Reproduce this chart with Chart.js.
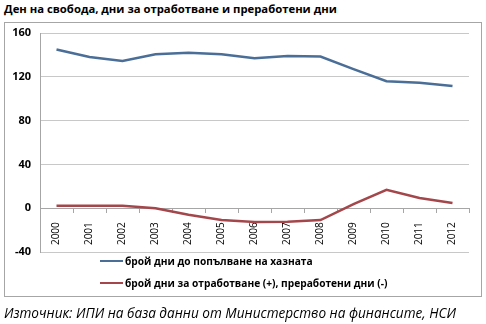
<!DOCTYPE html>
<html>
<head>
<meta charset="utf-8">
<script src="https://cdn.jsdelivr.net/npm/chart.js@4/dist/chart.umd.min.js"></script>
<style>
  html, body { margin: 0; padding: 0; background: #fff; }
  #wrap { position: relative; width: 486px; height: 324px; overflow: hidden; }
  #chart { position: absolute; left: 0; top: 0; }
  .title { position: absolute; left: 4px; top: 1px; font: bold 11.3px "Open Sans", sans-serif; color: #000; white-space: nowrap; }
  .frame { position: absolute; left: 4px; top: 22px; width: 476px; height: 273px; border: 1px solid #a6a6a6; pointer-events: none; }
  .legend { position: absolute; left: 100px; top: 252px; font: bold 10.2px "Open Sans", sans-serif; color: #000; }
  .legend div { height: 22px; line-height: 18px; white-space: nowrap; }
  .legend span.sw { display: inline-block; width: 23px; height: 0; border-top: 2.5px solid; vertical-align: middle; margin-right: 2px; position: relative; top: -1px; }
  .source { position: absolute; left: 4px; top: 303px; font: italic 13.6px "Open Sans", sans-serif; color: #000; white-space: nowrap; }
</style>
</head>
<body>
<div id="wrap">
  <div class="title">Ден на свобода, дни за отработване и преработени дни</div>
  <div class="frame"></div>
  <canvas id="chart" width="486" height="324"></canvas>
  <div class="legend" id="legend"></div>
  <div class="source">Източник: ИПИ на база данни от Министерство на финансите, НСИ</div>
</div>
<script>
// Years on the category axis
const years = ['2000','2001','2002','2003','2004','2005','2006','2007','2008','2009','2010','2011','2012'];
// Days needed to fill the treasury
const daysToFill = [145, 138, 134.5, 140.5, 142, 140.5, 137, 139, 138.5, 127, 116, 114.5, 111.5];
// Days to work off (+) / overworked days (-)
const daysBalance = [2.3, 2.3, 2.3, 0, -6, -10.8, -12.6, -12.4, -10.8, 3.8, 16.8, 9.4, 4.8];
const seriesNames = ['брой дни до попълване на хазната', 'брой дни за отработване (+), преработени дни (-)'];
const seriesColors = ['#4a6e98', '#a3474b'];
// Value axis ticks
const yTicks = [-40, 0, 40, 80, 120, 160];

const chart = new Chart(document.getElementById('chart'), {
  type: 'line',
  data: {
    labels: years,
    datasets: [
      { label: seriesNames[0], data: daysToFill, borderColor: seriesColors[0], borderWidth: 2.5, pointRadius: 0, tension: 0, fill: false },
      { label: seriesNames[1], data: daysBalance, borderColor: seriesColors[1], borderWidth: 2.5, pointRadius: 0, tension: 0, fill: false }
    ]
  },
  options: {
    responsive: false,
    animation: false,
    events: [],
    layout: { padding: { left: 10, right: 17, top: 33, bottom: 72 } },
    plugins: { legend: { display: false }, tooltip: { enabled: false } },
    scales: {
      x: {
        position: { y: 0 },
        offset: true,
        grid: { offset: true, drawOnChartArea: false, drawTicks: true, tickLength: 4, color: '#a6a6a6' },
        border: { color: '#a6a6a6', width: 1 },
        ticks: { minRotation: 90, maxRotation: 90, padding: 10, color: '#000', font: { family: 'Open Sans', size: 10 } }
      },
      y: {
        min: yTicks[0],
        max: yTicks[yTicks.length - 1],
        afterBuildTicks: (scale) => { scale.ticks = yTicks.map(v => ({ value: v })); },
        afterFit: (scale) => { scale.width = 30; },
        grid: { color: '#c8c8c8', drawTicks: false },
        border: { color: '#a6a6a6', width: 1 },
        ticks: { padding: 9, color: '#000', font: { family: 'Open Sans', size: 11, weight: 'bold' } }
      }
    }
  }
});

// Legend stacked vertically, built from the chart's datasets
const legendEl = document.getElementById('legend');
chart.data.datasets.forEach(ds => {
  const row = document.createElement('div');
  const sw = document.createElement('span');
  sw.className = 'sw';
  sw.style.borderTopColor = ds.borderColor;
  row.appendChild(sw);
  row.appendChild(document.createTextNode(ds.label));
  legendEl.appendChild(row);
});
</script>
</body>
</html>
